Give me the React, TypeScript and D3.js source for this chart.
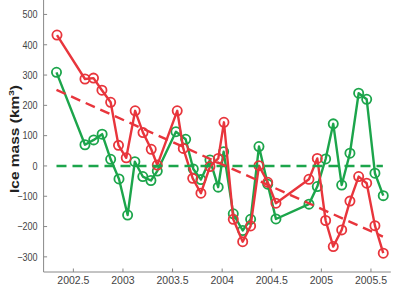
import React from "react";
import * as d3 from "d3";

const redT = [2002.335, 2002.617, 2002.703, 2002.788, 2002.876, 2002.955, 2003.033, 2003.123, 2003.202, 2003.285, 2003.346, 2003.547, 2003.608, 2003.703, 2003.786, 2003.877, 2003.961, 2004.018, 2004.112, 2004.207, 2004.287, 2004.371, 2004.459, 2004.542, 2004.875, 2004.959, 2005.043, 2005.12, 2005.205, 2005.288, 2005.376, 2005.457, 2005.54, 2005.624];
const redV = [432, 287, 290, 250, 210, 68, 27, 182, 110, 55, 3, 182, 58, -41, -90, -2, 25, 144, -176, -250, -198, 1, -54, -123, -44, 25, -180, -266, -211, -116, -35, -57, -197, -288];

const greenT = [2002.33, 2002.617, 2002.705, 2002.79, 2002.876, 2002.96, 2003.047, 2003.12, 2003.2, 2003.282, 2003.346, 2003.534, 2003.632, 2003.709, 2003.786, 2003.877, 2003.96, 2004.015, 2004.112, 2004.207, 2004.287, 2004.371, 2004.459, 2004.542, 2004.875, 2004.959, 2005.043, 2005.12, 2005.205, 2005.288, 2005.376, 2005.457, 2005.54, 2005.624];
const greenV = [309, 70, 86, 105, 22, -43, -162, 14, -35, -48, -17, 113, 88, -10, -45, 20, -70, 47, -158, -213, -176, 64, -60, -175, -126, -68, 23, 139, -63, 42, 240, 220, -24, -98];

const redTrendT = [2002.33, 2005.62];
const redTrendV = [251, -233];
const greenTrendT = [2002.33, 2005.62];
const greenTrendV = [0, 0];

const xTicks = [2002.5, 2003, 2003.5, 2004, 2004.5, 2005, 2005.5];
const yTicks = [-300, -200, -100, 0, 100, 200, 300, 400, 500];
const xTickLabels = ["2002.5", "2003", "2003.5", "2004", "2004.5", "2005", "2005.5"];

const RED = "#e8353c";
const GREEN = "#1ca54b";

export default function App() {
  const x = d3.scaleLinear().domain([2002.2, 2005.7]).range([43.6, 390.8]);
  const y = d3.scaleLinear().domain([-350, 550]).range([272, -0.7]);
  const line = d3
    .line<[number, number]>()
    .x((d) => x(d[0]))
    .y((d) => y(d[1]));
  const red = redT.map((t, i) => [t, redV[i]] as [number, number]);
  const green = greenT.map((t, i) => [t, greenV[i]] as [number, number]);
  const redTrend = redTrendT.map((t, i) => [t, redTrendV[i]] as [number, number]);
  const greenTrend = greenTrendT.map((t, i) => [t, greenTrendV[i]] as [number, number]);
  const fmt = (v: number) => (v < 0 ? "\u2212" + Math.abs(v) : String(v));
  const x0 = x.range()[0];
  const y0 = y.range()[0];
  const font = "'Liberation Sans', Arial, Helvetica, sans-serif";

  const series = (data: [number, number][], color: string) => (
    <g>
      <path d={line(data) || ""} fill="none" stroke={color} strokeWidth={2.4} strokeLinejoin="round" />
      {data.map((d, i) => (
        <circle key={i} cx={x(d[0])} cy={y(d[1])} r={4.6} fill="none" stroke={color} strokeWidth={1.8} />
      ))}
    </g>
  );

  return (
    <svg
      width={399}
      height={287}
      style={{ position: "absolute", left: 0, top: 0, background: "#fff", display: "block" }}
      fontFamily={font}
    >
      <rect width={399} height={287} fill="#fff" />
      {series(green, GREEN)}
      {series(red, RED)}
      <path d={line(greenTrend) || ""} fill="none" stroke={GREEN} strokeWidth={2.4} strokeDasharray="10,6" />
      <path d={line(redTrend) || ""} fill="none" stroke={RED} strokeWidth={2.4} strokeDasharray="10,6" />
      {/* axes */}
      <line x1={x0} x2={x0} y1={0} y2={y0} stroke="#888" strokeWidth={1} />
      <line x1={x0} x2={x.range()[1]} y1={y0} y2={y0} stroke="#888" strokeWidth={1} />
      {yTicks.map((v) => (
        <g key={v}>
          <line x1={x0} x2={x0 + 3.5} y1={y(v)} y2={y(v)} stroke="#888" />
          <text
            transform={`translate(${x0 - 6},${y(v)}) scale(0.86,1)`}
            textAnchor="end"
            dominantBaseline="central"
            fontSize={10.5}
            fill="#444"
          >
            {fmt(v)}
          </text>
        </g>
      ))}
      {xTicks.map((v, i) => (
        <g key={v}>
          <line x1={x(v)} x2={x(v)} y1={y0} y2={y0 - 3.5} stroke="#888" />
          <text x={x(v)} y={y0 + 11.5} textAnchor="middle" fontSize={10.5} fill="#444">
            {xTickLabels[i]}
          </text>
        </g>
      ))}
      <text
        transform={`translate(19,139) scale(0.8,1) rotate(-90)`}
        textAnchor="middle"
        fontSize={15.5}
        fontWeight="bold"
        fill="#222"
      >
        Ice mass (km
        <tspan fontSize={10} dy={-6}>3</tspan>
        <tspan dy={6}>)</tspan>
      </text>
    </svg>
  );
}
